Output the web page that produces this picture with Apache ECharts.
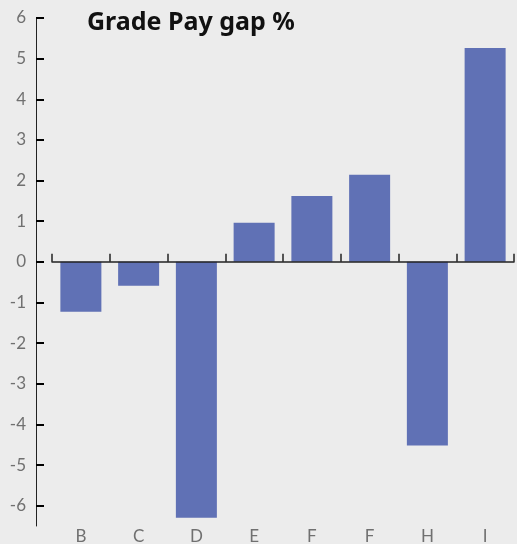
<!DOCTYPE html>
<html>
<head>
<meta charset="utf-8">
<script src="https://cdn.jsdelivr.net/npm/echarts@6/dist/echarts.min.js"></script>
<style>
  html, body { margin: 0; padding: 0; background: #ececec; }
  #chart { width: 517px; height: 544px; }
</style>
</head>
<body>
<div id="chart"></div>
<script>
const categories = ['B', 'C', 'D', 'E', 'F', 'F', 'H', 'I']
const gapValues = [-1.23, -0.59, -6.3, 0.96, 1.62, 2.14, -4.52, 5.26]
const yTicks = [-6, -5, -4, -3, -2, -1, 0, 1, 2, 3, 4, 5, 6]

const chart = echarts.init(document.getElementById('chart'))

const option = {
  backgroundColor: '#ececec',
  animation: false,
  title: {
    text: 'Grade Pay gap %',
    left: 82,
    top: 5,
    textStyle: {
      fontFamily: 'Noto Sans',
      fontWeight: 'bold',
      fontSize: 25,
      color: '#111'
    }
  },
  grid: { left: 52, right: 3, top: 18, bottom: 18, outerBoundsMode: 'none' },
  xAxis: [{
    type: 'category',
    data: categories,
    axisLine: { show: true, onZero: true, lineStyle: { color: '#222', width: 1.5 } },
    axisTick: { show: true, inside: true, alignWithLabel: false, interval: 0, length: 8, lineStyle: { color: '#222', width: 1.5 } },
    axisLabel: { show: false },
    z: 5
  }, {
    type: 'category',
    data: categories,
    position: 'bottom',
    axisLine: { show: false, onZero: false },
    axisTick: { show: false },
    axisLabel: { margin: 2, color: '#707070', fontFamily: 'Lato', fontSize: 17 }
  }],
  yAxis: {
    type: 'value',
    min: -6.5,
    max: 6,
    offset: 16,
    splitLine: { show: false },
    axisLine: { show: true, lineStyle: { color: '#222' } },
    axisTick: { show: true, inside: true, length: 8, customValues: yTicks, lineStyle: { color: '#000', width: 2 } },
    axisLabel: { customValues: yTicks, margin: 10, color: '#707070', fontFamily: 'Lato', fontSize: 17 }
  },
  series: [{
    type: 'bar',
    data: gapValues,
    barWidth: '71%',
    itemStyle: { color: '#6071b5' }
  }]
}

chart.setOption(option)
</script>
</body>
</html>
